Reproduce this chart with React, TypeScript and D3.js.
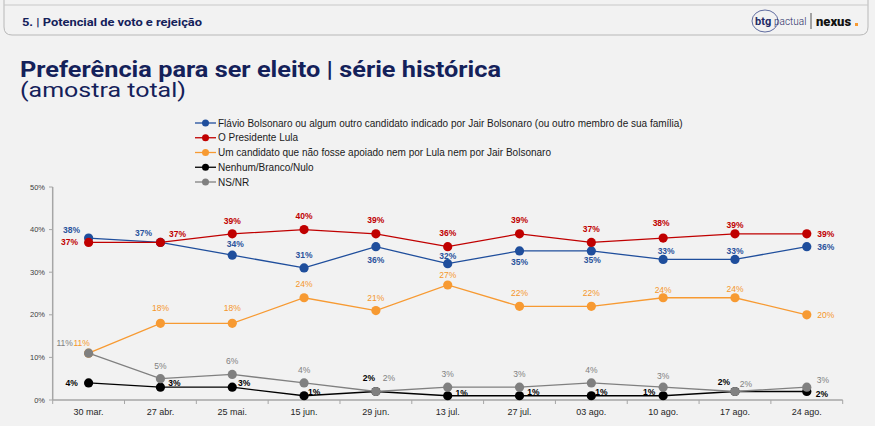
import React from "react";
import * as d3 from "d3";

const categories = ["30 mar.", "27 abr.", "25 mai.", "15 jun.", "29 jun.", "13 jul.", "27 jul.", "03 ago.", "10 ago.", "17 ago.", "24 ago."];
const flavio = [38, 37, 34, 31, 36, 32, 35, 35, 33, 33, 36];
const lula = [37, 37, 39, 40, 39, 36, 39, 37, 38, 39, 39];
const terceira = [11, 18, 18, 24, 21, 27, 22, 22, 24, 24, 20];
const nenhum = [4, 3, 3, 1, 2, 1, 1, 1, 1, 2, 2];
const nsnr = [11, 5, 6, 4, 2, 3, 3, 4, 3, 2, 3];
const yTicks = [0, 10, 20, 30, 40, 50];
const seriesNames = [
  "Flávio Bolsonaro ou algum outro candidato indicado por Jair Bolsonaro (ou outro membro de sua família)",
  "O Presidente Lula",
  "Um candidato que não fosse apoiado nem por Lula nem por Jair Bolsonaro",
  "Nenhum/Branco/Nulo",
  "NS/NR",
];

// label offsets (layout only)
const offBlue = [[-17, -8], [-17, -9], [3, -11], [0, -13], [0, 13], [0, -8], [0, 11], [1, 9], [3, -8], [0, -8], [19, 0]];
const offRed = [[-19, 0], [17, -8], [0, -13], [0, -14], [0, -14], [0, -14], [0, -14], [0, -13], [-2, -15], [0, -9], [19, 0]];
const offOrange = [[-7, -10], [0, -15], [0, -15], [0, -14], [0, -13], [0, -10], [0, -13], [0, -13], [0, -8], [0, -9], [19, 0]];
const offBlack = [[-17, 0], [14, -4], [12, -4], [10, -4], [-7, -13], [14, -3], [14, -4], [10, -4], [-14, -4], [-11, -9], [15, 3]];
const offGray = [[-24, -10], [0, -13], [0, -13], [0, -13], [13, -13], [0, -13], [0, -13], [0, -13], [0, -11], [11, -7], [16, -7]];

const W = 875;
const H = 426;
const navy = "#14215a";

export default function App() {
  const x = d3.scaleBand<string>().domain(categories).range([52.7, 842.7]);
  const y = d3.scaleLinear().domain([0, 50]).range([400, 187]);
  const bw = x.bandwidth();
  const px = (c: string) => (x(c) as number) + bw / 2;

  const series = [
    { name: seriesNames[0], values: flavio, color: "#1f4e9c", label: "#2a529c", bold: true, off: offBlue },
    { name: seriesNames[1], values: lula, color: "#c00000", label: "#c00000", bold: true, off: offRed },
    { name: seriesNames[2], values: terceira, color: "#f79a32", label: "#f5962a", bold: false, off: offOrange },
    { name: seriesNames[3], values: nenhum, color: "#000000", label: "#000000", bold: true, off: offBlack },
    { name: seriesNames[4], values: nsnr, color: "#808080", label: "#808080", bold: false, off: offGray },
  ];
  const drawOrder = [2, 0, 1, 3, 4];

  const line = d3
    .line<number>()
    .x((_, i) => px(categories[i]))
    .y((v) => y(v));

  const font = "'Liberation Sans', Arial, sans-serif";
  const boundaries = d3.range(categories.length + 1).map((i) => 52.7 + i * bw);

  return (
    <svg width={W} height={H} style={{ position: "absolute", left: 0, top: 0 }} fontFamily={font}>
      <rect x={0} y={0} width={W} height={H} fill="#f2f2f2" />
      {/* header box */}
      <path d="M4,-2 L4,27 Q4,35 12,35 L860,35 Q868,35 868,27 L868,-2" fill="none" stroke="#b8b8b8" strokeWidth={1} />
      <line x1={4} y1={5} x2={868} y2={5} stroke="#c8c8c8" strokeWidth={1} />
      <text x={22} y={26} fontFamily="Roboto, sans-serif" fontWeight={700} fontSize={11} fill={navy} textLength={180} lengthAdjust="spacingAndGlyphs">
        5. | Potencial de voto e rejeição
      </text>
      {/* logo */}
      <ellipse cx={765} cy={21} rx={13} ry={11} fill="none" stroke="#3b4a8a" strokeWidth={0.8} />
      <text x={755} y={25} fontFamily="Roboto, sans-serif" fontWeight={700} fontSize={11} fill="#1e2a66">btg</text>
      <text x={774} y={25} fontFamily="Roboto, sans-serif" fontWeight={300} fontSize={10} fill="#1e2a66">pactual</text>
      <line x1={811} y1={13} x2={811} y2={29} stroke="#555" strokeWidth={1} />
      <text x={816} y={26} fontFamily="Roboto, sans-serif" fontWeight={900} fontSize={13} fill="#111">nexus</text>
      <rect x={855} y={23} width={3} height={3} fill="#f79a32" />
      {/* title */}
      <text x={20} y={77} fontFamily="Roboto, sans-serif" fontWeight={700} fontSize={21.5} fill={navy} textLength={481} lengthAdjust="spacingAndGlyphs">
        Preferência para ser eleito | série histórica
      </text>
      <text x={20} y={97} fontFamily="Roboto, sans-serif" fontWeight={400} fontSize={21} fill={navy} textLength={166} lengthAdjust="spacingAndGlyphs">
        (amostra total)
      </text>

      {/* legend */}
      {series.map((s, i) => {
        const ly = 123 + i * 14.75;
        return (
          <g key={s.name}>
            <line x1={195} x2={216} y1={ly} y2={ly} stroke={s.color} strokeWidth={1.3} />
            <circle cx={205.5} cy={ly} r={3.5} fill={s.color} />
            <text x={218} y={ly} dominantBaseline="central" fontSize={10} fill="#1a1a1a">
              {s.name}
            </text>
          </g>
        );
      })}

      {/* y axis */}
      <line x1={52.7} x2={52.7} y1={y(50)} y2={y(0)} stroke="#a6a6a6" strokeWidth={1.5} />
      {yTicks.map((t) => (
        <g key={t}>
          <line x1={49} x2={52.7} y1={y(t)} y2={y(t)} stroke="#a6a6a6" strokeWidth={1} />
          <text x={45} y={y(t)} textAnchor="end" dominantBaseline="central" fontSize={7.5} fill="#404040">
            {t}%
          </text>
        </g>
      ))}
      {/* x axis */}
      <line x1={52.7} x2={842.7} y1={y(0)} y2={y(0)} stroke="#a6a6a6" strokeWidth={1.5} />
      {boundaries.map((b, i) => (
        <line key={i} x1={b} x2={b} y1={y(0)} y2={y(0) + 4} stroke="#a6a6a6" strokeWidth={1} />
      ))}
      {categories.map((c) => (
        <text key={c} x={px(c)} y={412} textAnchor="middle" dominantBaseline="central" fontSize={9} fill="#262626">
          {c}
        </text>
      ))}

      {/* series */}
      {drawOrder.map((si) => {
        const s = series[si];
        return (
          <g key={s.name}>
            <path d={line(s.values) || ""} fill="none" stroke={s.color} strokeWidth={1.3} />
            {s.values.map((v, i) => (
              <circle key={i} cx={px(categories[i])} cy={y(v)} r={4.6} fill={s.color} />
            ))}
          </g>
        );
      })}
      {drawOrder.map((si) => {
        const s = series[si];
        return (
          <g key={s.name + "-lbl"}>
            {s.values.map((v, i) => (
              <text
                key={i}
                x={px(categories[i]) + s.off[i][0]}
                y={y(v) + s.off[i][1]}
                textAnchor="middle"
                dominantBaseline="central"
                fontSize={8.5}
                fontWeight={s.bold ? 700 : 400}
                fill={s.label}
              >
                {v}%
              </text>
            ))}
          </g>
        );
      })}
    </svg>
  );
}
